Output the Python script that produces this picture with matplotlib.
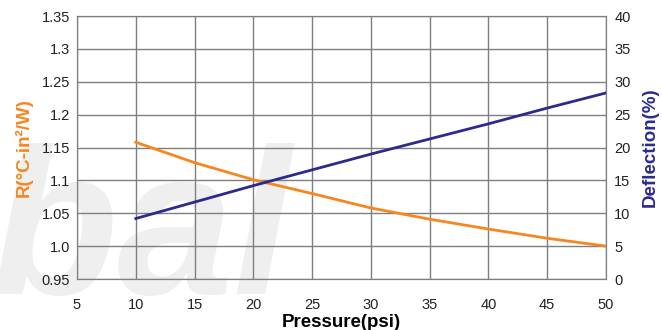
import matplotlib
matplotlib.use("Agg")
import matplotlib.pyplot as plt
import numpy as np

plt.rcParams['font.family'] = ['Liberation Sans', 'DejaVu Sans']

# Values
pressure = [10, 15, 20, 25, 30, 35, 40, 45, 50]
resistance = [1.158, 1.127, 1.101, 1.080, 1.058, 1.041, 1.026, 1.012, 1.000]
deflection = [9.2, 11.7, 14.2, 16.6, 19.0, 21.3, 23.6, 26.0, 28.3]

x_ticks = [5, 10, 15, 20, 25, 30, 35, 40, 45, 50]
r_ticks = [0.95, 1.0, 1.05, 1.1, 1.15, 1.2, 1.25, 1.3, 1.35]
r_labels = ["0.95", "1.0", "1.05", "1.1", "1.15", "1.2", "1.25", "1.3", "1.35"]
d_ticks = [0, 5, 10, 15, 20, 25, 30, 35, 40]

ORANGE = "#F7861C"
BLUE = "#2B2A8E"
GRID = "#7f7f7f"

fig = plt.figure(figsize=(6.62, 3.30), dpi=100)

# watermark behind the plot
fig.text(-0.015, 0.11, "bal", fontsize=150, fontweight='bold', style='italic',
         color="#efefef", zorder=0)

ax = fig.add_axes([0.1163, 0.1545, 0.7991, 0.797])
ax.set_zorder(1)
ax.set_facecolor('none')
ax.set_xlim(5, 50)
ax.set_ylim(0.95, 1.35)
ax.set_xticks(x_ticks)
ax.set_yticks(r_ticks)
ax.set_yticklabels(r_labels)
ax.grid(True, color=GRID, linewidth=1.0)
ax.tick_params(length=0, labelsize=10.5, colors="#222222")
ax.tick_params(axis='x', pad=14)
ax.tick_params(axis='y', pad=5)
for s in ax.spines.values():
    s.set_color(GRID)
ax.plot(pressure, resistance, color=ORANGE, linewidth=2, zorder=3)
ax.set_ylabel("R(°C-in²/W)", color=ORANGE, fontweight='bold', fontsize=13.5, labelpad=6)
ax.set_xlabel("Pressure(psi)", fontweight='bold', fontsize=13.5, labelpad=1)

ax2 = ax.twinx()
ax2.set_zorder(2)
ax2.set_ylim(0, 40)
ax2.set_yticks(d_ticks)
ax2.tick_params(length=0, labelsize=10.5, colors="#222222", pad=6)
for s in ax2.spines.values():
    s.set_color(GRID)
ax2.plot(pressure, deflection, color=BLUE, linewidth=2, zorder=3)
ax2.set_ylabel("Deflection(%)", color=BLUE, fontweight='bold', fontsize=13.5, labelpad=8)

fig.savefig("out.png", dpi=100)
